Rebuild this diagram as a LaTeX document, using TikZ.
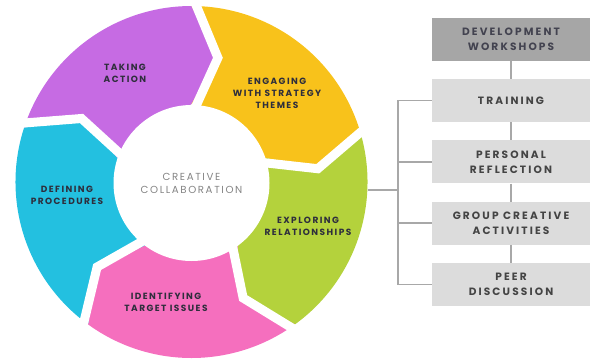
\documentclass[tikz,border=0pt]{standalone}
\usepackage{fontspec}
\setmainfont{Poppins}
\newfontfamily\widefont{Poppins}[LetterSpace=16]
\newfontfamily\boxfont{Poppins}[LetterSpace=20]
\usetikzlibrary{positioning}

\definecolor{actpurple}{HTML}{C66BE3}
\definecolor{engyellow}{HTML}{F8C21B}
\definecolor{expgreen}{HTML}{B4D23C}
\definecolor{idpink}{HTML}{F56FBE}
\definecolor{defcyan}{HTML}{23C0E0}
\definecolor{labeldark}{HTML}{2E2E3C}
\definecolor{coregrey}{HTML}{858585}
\definecolor{boxdark}{HTML}{A6A6A6}
\definecolor{boxlight}{HTML}{DCDCDC}
\definecolor{wiregrey}{HTML}{A8A8A8}
\definecolor{boxtext}{HTML}{444444}

\tikzset{
  seglabel/.style={font=\widefont\bfseries\fontsize{9}{12}\selectfont, text=labeldark, align=center},
  corelabel/.style={circle, fill=white, minimum size=156pt, inner sep=0pt,
    font=\widefont\fontsize{10.2}{13}\selectfont, text=coregrey, align=center},
  gapline/.style={white, line width=9pt, line join=miter},
  wsbox/.style={minimum width=158pt, minimum height=43pt, inner sep=0pt,
    font=\boxfont\bfseries\fontsize{10.6}{15}\selectfont, align=center},
  darkbox/.style={wsbox, fill=boxdark, text=labeldark!90},
  lightbox/.style={wsbox, fill=boxlight, text=boxtext},
  wire/.style={wiregrey, line width=1.6pt}
}

\begin{document}
\begin{tikzpicture}[x=1pt,y=1pt]
\useasboundingbox (0,0) rectangle (596,360);

% cycle
\begin{scope}[shift={(191.5,178)}]
\fill[actpurple] (162:176) arc[start angle=162, end angle=90, radius=176] -- (78:127) -- (90:78) -- (162:78) -- (150:127) -- cycle;
\fill[engyellow] (90:176) arc[start angle=90, end angle=18, radius=176] -- (6:127) -- (18:78) -- (90:78) -- (78:127) -- cycle;
\fill[expgreen] (18:176) arc[start angle=18, end angle=-54, radius=176] -- (-66:127) -- (-54:78) -- (18:78) -- (6:127) -- cycle;
\fill[idpink] (-54:176) arc[start angle=-54, end angle=-126, radius=176] -- (-138:127) -- (-126:78) -- (-54:78) -- (-66:127) -- cycle;
\fill[defcyan] (-126:176) arc[start angle=-126, end angle=-198, radius=176] -- (-210:127) -- (-198:78) -- (-126:78) -- (-138:127) -- cycle;

% gaps
\draw[gapline] (90:188) -- (78:127) -- (90:66);
\draw[gapline] (18:188) -- (6:127) -- (18:66);
\draw[gapline] (-54:188) -- (-66:127) -- (-54:66);
\draw[gapline] (-126:188) -- (-138:127) -- (-126:66);
\draw[gapline] (162:188) -- (150:127) -- (162:66);

\node[corelabel] (core) at (0,-1) {CREATIVE\\COLLABORATION};
\coordinate (ringedge) at (176,-8);
\end{scope}

% stage labels
\node[seglabel] (act) at (125,287) {TAKING\\ACTION};
\node[seglabel] (eng) at (277,267) {ENGAGING\\WITH STRATEGY\\THEMES};
\node[seglabel] (exp) at (308,134) {EXPLORING\\RELATIONSHIPS};
\node[seglabel] (ident) at (166,58) {IDENTIFYING\\TARGET ISSUES};
\node[seglabel] (def) at (67,165) {DEFINING\\PROCEDURES};

% workshops
\node[darkbox] (work) at (511,321) {DEVELOPMENT\\WORKSHOPS};
\node[lightbox, below=18pt of work] (train) {TRAINING};
\node[lightbox, below=18pt of train] (refl) {PERSONAL\\REFLECTION};
\node[lightbox, below=18pt of refl] (group) {GROUP CREATIVE\\ACTIVITIES};
\node[lightbox, below=18pt of group] (peer) {PEER\\DISCUSSION};

\draw[wire] (work) -- (train);
\draw[wire] (train) -- (refl);
\draw[wire] (refl) -- (group);
\draw[wire] (group) -- (peer);

% bracket
\coordinate (hub) at (398,170);
\draw[wire] (ringedge) -- (hub);
\draw[wire] (train.west) -- (train.west -| hub) -- (peer.west -| hub) -- (peer.west);
\draw[wire] (refl.west) -- (refl.west -| hub);
\draw[wire] (group.west) -- (group.west -| hub);
\end{tikzpicture}
\end{document}
